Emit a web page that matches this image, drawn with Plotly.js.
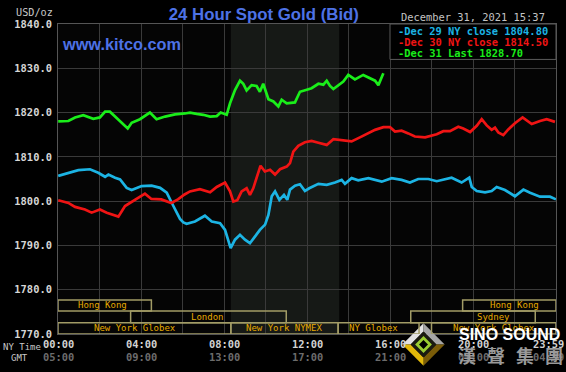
<!DOCTYPE html>
<html>
<head>
<meta charset="utf-8">
<script src="https://cdn.plot.ly/plotly-3.0.1.min.js"></script>
<style>html,body{margin:0;padding:0;background:#000;}#chart{width:566px;height:372px;}</style>
</head>
<body>
<div id="chart"></div>
<script>
// ---------- DATA ----------
const dec29Hours = [0.01,0.5,0.98,1.54,1.94,2.27,2.43,2.75,2.99,3.31,3.55,4.03,4.51,4.92,5.24,5.56,5.88,6.04,6.2,6.6,7.08,7.41,7.81,8.05,8.21,8.32,8.53,8.77,9.01,9.25,9.49,9.73,9.98,10.14,10.3,10.46,10.67,10.89,11.05,11.18,11.42,11.66,11.9,12.11,12.55,12.95,13.35,13.67,13.83,14.15,14.47,14.96,15.6,16.08,16.56,16.96,17.36,17.85,18.25,18.57,18.97,19.45,19.82,19.94,20.18,20.58,20.9,21.14,21.54,22.02,22.43,22.75,23.23,23.71,24.0];
const dec29Vals  = [1805.7,1806.4,1807.0,1807.2,1806.4,1805.5,1806.0,1805.3,1804.9,1803.0,1802.5,1803.4,1803.5,1803.0,1801.9,1798.9,1796.0,1795.2,1794.9,1795.4,1796.7,1795.4,1795.0,1793.5,1790.9,1789.4,1791.3,1792.4,1791.3,1790.5,1792.0,1793.5,1794.7,1796.9,1801.1,1802.2,1800.3,1801.4,1800.3,1802.6,1803.5,1803.8,1802.3,1802.9,1803.9,1803.7,1804.2,1804.8,1803.9,1805.2,1804.7,1805.2,1804.4,1805.2,1804.8,1804.2,1805.0,1805.0,1804.5,1804.9,1805.3,1804.2,1805.3,1803.2,1802.3,1802.0,1802.3,1803.2,1802.5,1801.1,1802.6,1801.9,1801.0,1801.0,1800.4];

const dec30Hours = [0.01,0.5,0.82,1.3,1.62,2.02,2.35,2.67,2.91,3.23,3.71,4.19,4.5,4.98,5.46,5.78,6.1,6.36,6.84,7.33,7.65,8.05,8.29,8.45,8.64,8.85,9.09,9.25,9.41,9.65,9.76,9.97,10.22,10.46,10.7,11.02,11.18,11.34,11.58,11.9,12.22,12.55,12.95,13.27,13.67,14.15,14.55,14.96,15.28,15.68,16.0,16.24,16.56,16.88,17.2,17.69,17.93,18.25,18.57,18.89,19.29,19.53,19.86,20.18,20.42,20.66,20.9,21.06,21.22,21.46,21.7,22.02,22.39,22.83,23.23,23.55,23.95];
const dec30Vals  = [1800.2,1799.6,1798.7,1798.1,1797.4,1798.1,1797.4,1796.8,1796.5,1798.9,1800.4,1801.7,1800.5,1800.4,1799.6,1800.4,1801.5,1802.2,1802.7,1802.0,1803.2,1804.2,1802.2,1799.9,1800.2,1802.2,1802.9,1801.4,1802.9,1806.3,1808.0,1806.7,1807.1,1806.0,1807.2,1807.8,1808.6,1811.2,1812.5,1813.3,1813.6,1813.2,1812.7,1814.0,1813.7,1813.5,1814.4,1815.3,1816.1,1816.7,1816.7,1815.7,1815.9,1815.3,1814.6,1814.4,1814.7,1815.1,1815.8,1815.8,1816.8,1816.4,1815.6,1817.0,1818.5,1817.1,1816.1,1816.6,1815.5,1814.9,1816.2,1817.6,1818.9,1817.4,1818.1,1818.5,1817.9];

const dec31Hours = [0.01,0.5,0.82,1.22,1.7,2.02,2.27,2.5,2.75,3.07,3.36,3.55,3.95,4.43,4.75,5.16,5.64,6.12,6.36,6.68,7.0,7.33,7.65,7.84,8.13,8.29,8.53,8.77,8.93,9.09,9.33,9.57,9.73,9.89,10.14,10.38,10.62,10.78,11.02,11.42,11.66,11.95,12.22,12.55,12.79,12.95,13.11,13.27,13.51,13.75,13.99,14.31,14.71,15.04,15.28,15.44,15.57,15.68];
const dec31Vals  = [1818.0,1818.1,1818.9,1819.4,1818.6,1818.9,1820.2,1820.2,1819.1,1817.6,1816.4,1817.7,1818.5,1820.0,1818.5,1819.1,1819.6,1819.8,1820.0,1819.7,1819.5,1819.1,1819.2,1820.0,1819.5,1822.1,1825.1,1827.2,1826.5,1825.0,1826.2,1826.0,1824.7,1826.5,1823.0,1822.5,1821.4,1822.9,1822.1,1822.3,1824.7,1825.1,1825.5,1826.5,1826.3,1827.2,1826.0,1825.3,1826.2,1827.0,1828.5,1827.5,1828.5,1827.7,1827.2,1826.2,1827.7,1828.9];

const seriesNames  = ["Dec 29 NY close","Dec 30 NY close","Dec 31 Last"];
const seriesCloses = [1804.80, 1814.50, 1828.70];

const yTicks = [1770,1780,1790,1800,1810,1820,1830,1840];
const nyTickHours  = [0,4,8,12,16,20,24];
const nyTickLabels = ["00:00","04:00","08:00","12:00","16:00","20:00","23:59"];
const gmtTickLabels = ["05:00","09:00","13:00","17:00","21:00","01:00","04:59"];

const sessionNames   = ["Hong Kong","London","New York Globex","New York NYMEX","NY Globex","Sydney","Hong Kong","New York Globex"];
const sessionStart   = [0,3.5,0,8.33,13.5,17,19.5,18];
const sessionEnd     = [4.5,11.0,8.33,13.5,17.4,23,24,24];
const sessionRow     = [0,1,2,2,2,1,0,2];
const sessionLabelAt = [2.15,7.2,3.7,10.9,15.2,21.0,22.0,21.0];
const nymexOpen = 8.33, nymexClose = 13.55;

const titleText = "24 Hour Spot Gold (Bid)";
const dateText = "December 31, 2021 15:37";

// ---------- STYLE ----------
const colors = ["#1cb4e4","#f01414","#1aee1a"];
const mono = "DejaVu Sans Mono";
const sans = "Liberation Sans, Arial, sans-serif";
const rowBounds = [[1775.2,1777.7],[1772.55,1775.2],[1770,1772.55]];
const L = 58, R = 556, T = 24, B = 334;
const PX = x => (x - L) / (R - L);
const PY = y => (B - y) / (B - T);

const traces = [
  {x: dec29Hours, y: dec29Vals},
  {x: dec30Hours, y: dec30Vals},
  {x: dec31Hours, y: dec31Vals}
].map((d,i) => ({
  type: "scatter", mode: "lines", x: d.x, y: d.y, name: seriesNames[i],
  line: {color: colors[i], width: 2.7}, hoverinfo: "skip"
}));

const shapes = [
  {type:"rect", xref:"x", yref:"paper", x0:nymexOpen, x1:nymexClose, y0:0, y1:1,
   fillcolor:"#161916", line:{width:0}, layer:"below"},
  {type:"rect", xref:"x", yref:"y", x0:16, x1:24, y0:1832.0, y1:1840,
   fillcolor:"#000", line:{color:"#5a5a5a", width:1}, layer:"above"}
];
const annotations = [];

sessionNames.forEach((n,i) => {
  const rb = rowBounds[sessionRow[i]];
  shapes.push({type:"rect", xref:"x", yref:"y", x0:sessionStart[i], x1:sessionEnd[i],
    y0:rb[0], y1:rb[1], fillcolor:"rgba(0,0,0,0)", line:{color:"#a29c66", width:1.5}, layer:"above"});
  annotations.push({xref:"x", yref:"y", x:sessionLabelAt[i], y:(rb[0]+rb[1])/2, text:n,
    showarrow:false, xanchor:"center", yanchor:"middle",
    font:{family:mono, size:9, color:"#e6aa00"}});
});

// legend box entries
seriesNames.forEach((n,i) => {
  annotations.push({xref:"paper", yref:"paper", x:PX(396), y:PY([31,42,53.3][i]),
    text:"-" + n + " " + seriesCloses[i].toFixed(2), showarrow:false,
    xanchor:"left", yanchor:"middle",
    font:{family:mono, size:10.4, color:colors[i], weight:"bold"}});
});

// bottom labels
nyTickHours.forEach((h,i) => {
  const last = i === nyTickHours.length - 1;
  annotations.push({xref:"x", yref:"paper", x:h, y:PY(344.3), text:nyTickLabels[i],
    showarrow:false, xanchor:last?"right":"center", yanchor:"middle", xshift:last?10:0,
    font:{family:mono, size:10.4, color:"#d2d2d2", weight:"bold"}});
  annotations.push({xref:"x", yref:"paper", x:h, y:PY(357.3), text:gmtTickLabels[i],
    showarrow:false, xanchor:last?"right":"center", yanchor:"middle", xshift:last?10:0,
    font:{family:mono, size:10.4, color:"#6c6c6c", weight:"bold"}});
});
annotations.push({xref:"paper", yref:"paper", x:PX(1), y:PY(346.7), text:"NY Time", showarrow:false,
  xanchor:"left", yanchor:"middle", font:{family:mono, size:9, color:"#c8c8c8"}});
annotations.push({xref:"paper", yref:"paper", x:PX(9), y:PY(358), text:"GMT", showarrow:false,
  xanchor:"left", yanchor:"middle", font:{family:mono, size:9, color:"#c8c8c8"}});

// header texts
annotations.push({xref:"paper", yref:"paper", x:PX(55), y:PY(12.3), text:"USD/oz", showarrow:false,
  xanchor:"right", yanchor:"middle", font:{family:mono, size:10.2, color:"#c8c8c8"}});
annotations.push({xref:"paper", yref:"paper", x:PX(59.5), y:PY(44), text:"www.kitco.com", showarrow:false,
  xanchor:"left", yanchor:"middle", font:{family:sans, size:16.3, color:"#4d72e6", weight:"bold"}});
annotations.push({xref:"paper", yref:"paper", x:PX(547), y:PY(17.3), text:dateText, showarrow:false,
  xanchor:"right", yanchor:"middle", font:{family:mono, size:10.4, color:"#c4c4c4"}});

// watermark
annotations.push({xref:"paper", yref:"paper", x:PX(509), y:PY(334), text:"SINO SOUND", showarrow:false,
  xanchor:"center", yanchor:"middle", font:{family:sans, size:16, color:"#ffffff", weight:"bold"}});
["漢","聲","集","團"].forEach((c,i) => {
  annotations.push({xref:"paper", yref:"paper", x:PX([467,496,525,553.5][i]), y:PY(355), text:c,
    showarrow:false, xanchor:"center", yanchor:"middle",
    font:{family:"Noto Sans CJK TC", size:18, color:"#9a9a9a", weight:"bold"}});
});

const logoSvg = '<svg xmlns="http://www.w3.org/2000/svg" viewBox="0 0 50 50">' +
  '<polygon points="2,25 25,2 25,11 11,25" fill="#e2e2e2"/>' +
  '<polygon points="25,2 48,25 39,25 25,11" fill="#a6a6a6"/>' +
  '<polygon points="48,25 25,48 25,39 39,25" fill="#7a5c08"/>' +
  '<polygon points="25,48 2,25 11,25 25,39" fill="#e2b80a"/>' +
  '<polygon points="25,11 39,25 25,39 11,25" fill="#1a1a10"/>' +
  '<polygon points="25,18 32,25 25,32 18,25" fill="#000" stroke="#9acd32" stroke-width="3"/>' +
  '</svg>';

const layout = {
  width: 566, height: 372,
  margin: {l: L, r: 566 - R, t: T, b: 372 - B, pad: 0},
  paper_bgcolor: "#000", plot_bgcolor: "#050505",
  showlegend: false,
  title: {text: titleText, x: 263.8/566, xanchor: "center", y: 1 - 14/372, yanchor: "middle",
          font: {family: sans, size: 16.8, color: "#4d72e6", weight: "bold"}},
  xaxis: {range: [0, 24], tickvals: [0,2,4,6,8,10,12,14,16,18,20,22,24], showticklabels: false,
          showgrid: true, gridcolor: "#3a3a3a", gridwidth: 1, zeroline: false,
          showline: true, linecolor: "#555", mirror: true, ticks: "", fixedrange: true},
  yaxis: {range: [1770, 1840], tickvals: yTicks, ticktext: yTicks.map(v => v.toFixed(1)),
          showgrid: true, gridcolor: "#3a3a3a", gridwidth: 1, zeroline: false,
          showline: true, linecolor: "#555", mirror: true, ticks: "", ticklabelstandoff: 3,
          tickfont: {family: mono, size: 10.4, color: "#d6d6d6", weight: "bold"}, fixedrange: true},
  shapes: shapes,
  annotations: annotations,
  images: [{source: "data:image/svg+xml;charset=utf-8," + encodeURIComponent(logoSvg),
            xref: "paper", yref: "paper", x: PX(400.5), y: PY(321.5),
            sizex: 46/(R-L), sizey: 46/(B-T), sizing: "stretch",
            xanchor: "left", yanchor: "top", layer: "above"}]
};

Plotly.newPlot("chart", traces, layout, {displayModeBar: false, staticPlot: true});
</script>
</body>
</html>
